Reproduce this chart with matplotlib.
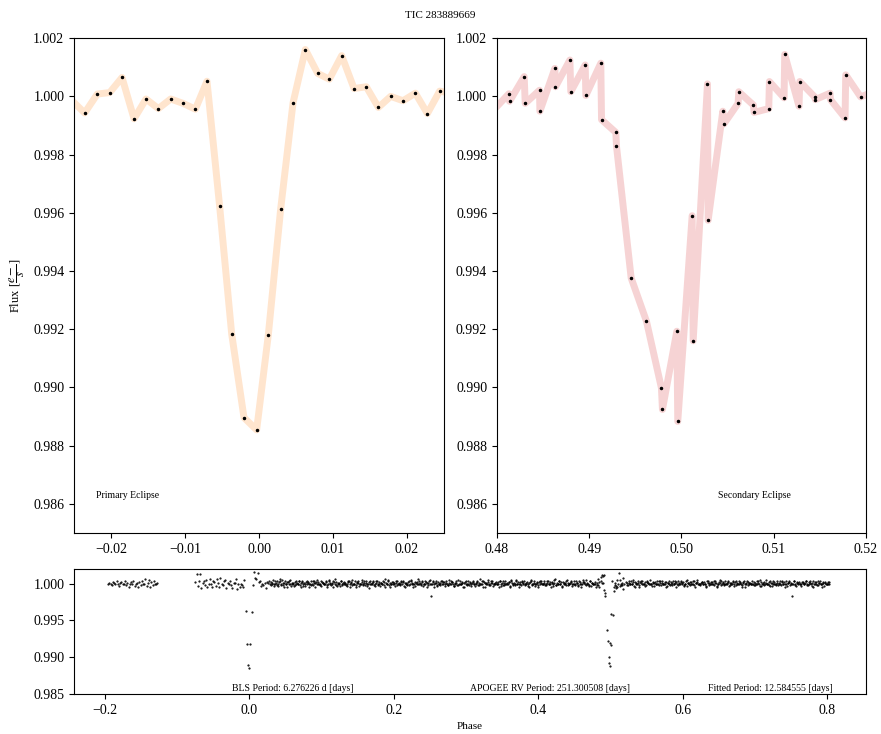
import numpy as np
import matplotlib
matplotlib.use('Agg')
import matplotlib.pyplot as plt

plt.rcParams['font.family'] = ['Liberation Serif', 'DejaVu Serif']
plt.rcParams['mathtext.fontset'] = 'stix'

tic_id = 'TIC 283889669'
bls_period = 6.276226
rv_period = 251.300508
fit_period = 12.584555

# phase step of one 30 min cadence, folded on the fitted period
cadence = (30.0 / 1440.0) / fit_period

# primary eclipse window
primary_phase = [-0.02522, -0.02356, -0.02185, -0.02018, -0.01851, -0.01689, -0.01527, -0.0136,
                 -0.01194, -0.01027, -0.0086, -0.00703, -0.00532, -0.00369, -0.00203, -0.00032,
                 0.00126, 0.00293, 0.0046, 0.00626, 0.00793, 0.0095, 0.01117, 0.01284,
                 0.0145, 0.01613, 0.01779, 0.01946, 0.02113, 0.02275, 0.02441, 0.02607]
primary_flux = [0.99984, 0.99943, 1.00008, 1.00013, 1.00065, 0.99923, 0.99991, 0.99958,
                0.99991, 0.99976, 0.99956, 1.00052, 0.99622, 0.99183, 0.98896, 0.98854,
                0.99181, 0.99614, 0.99978, 1.00161, 1.00079, 1.00059, 1.0014, 1.00027,
                1.00033, 0.99962, 1.0, 0.99985, 1.00011, 0.99941, 1.00018, 1.0001]

# secondary eclipse window (two orbits overlap here)
secondary_phase = [0.4797, 0.4813, 0.48137, 0.48296, 0.48307, 0.48462, 0.48466, 0.48628,
                   0.48635, 0.48791, 0.48801, 0.48957, 0.48964, 0.49126, 0.49134, 0.49289,
                   0.49296, 0.49455, 0.49621, 0.49783, 0.49794, 0.4995, 0.4996, 0.50116,
                   0.50127, 0.50282, 0.50289, 0.50448, 0.50459, 0.50614, 0.50621, 0.5078,
                   0.50787, 0.50946, 0.50953, 0.51112, 0.51119, 0.51274, 0.51282, 0.51444,
                   0.51451, 0.5161, 0.51614, 0.51773, 0.5178, 0.51942, 0.5211]
secondary_flux = [0.99955, 1.00009, 0.99983, 1.00068, 0.99976, 1.00021, 0.99949, 1.00096,
                  1.00033, 1.00125, 1.00016, 1.00108, 1.00003, 1.00114, 0.9992, 0.99876,
                  0.99829, 0.99376, 0.99227, 0.98998, 0.98924, 0.99193, 0.98883, 0.9959,
                  0.9916, 1.00043, 0.99574, 0.99949, 0.99905, 0.99976, 1.00016, 0.9997,
                  0.99945, 0.99958, 1.00051, 0.99995, 1.00144, 0.99966, 1.00051, 0.99998,
                  0.99989, 1.00011, 0.99989, 0.99926, 1.00074, 0.99998, 1.0002]

# out-of-eclipse stretches: start phase and flux offsets in units of 1e-4
orbit1_a_start = -0.1955
orbit1_a = [-1, 1, 0, -2, 2, 1, -1, 3, 0, -3, 1, 2, -1, 0, 4, -2, 1, -4, 0, 2, -1,
            3, -3, 0, 1, -5, 2, -2, 4, 0, -1, 6, -3, 1, 5, -4, 2, -2, 3, 0, -1, 1]

orbit1_b_start = -0.0749
orbit1_b = [2, 13, -3, 4, 13, -6, 1, 3, -2, 5, -4, 0, 7, -1, -5,
            3, 2, -3, 6, 1, -4, 8, 0, -2, 3, 5, -6, 1, -1, 4]

orbit1_c_start = 0.02776
orbit1_c = [3, -2, 1, 5, -1, 0, 4, -3, 2, 6, -2, 1, -4, 3, 0, 2, -1, 5, -3, 1, 0,
            -2, 4, 1, -1, 3, -5, 2, 0, 1, -3, 4, 2, -1, 0, -2, 3, 1, -4, 2, 5, -1,
            0, -3, 2, 1, -1, 4, -2, 0, 3, -1, 1, -5, 2, 6, -2, 0, 1, -3, 4, -1, 2,
            1, -2, 0, 3, -4, 2, 5, -1, 0, -2, 1, 3, -3, 0, 2, -1, 4, -2, 1, 0, -6,
            3, 0, -1, 2, -3, 1, 4, -2, 0, 1, -1, 3, 2, -4, 0, 5, -2, 1, -1, 2, 0,
            -3, 1, 4, 0, -2, 2, -1, 3, -5, 1, 0, 2, -2, 4, 1, -1, 0, -3, 2, 7, -1,
            1, -2, 3, 0, -1, 2, -4, 1, 5, -17, 0, 3, -1, 1, -3, 2, 0, -2, 4, -1, 2,
            0, 3, -2, 1, -1, 4, 2, -3, 0, 1, -2, 5, -1, 0, 2, -4, 1, 3, -1, 0, -2,
            2, -1, 4, 0, -3, 1, 2, -2, 6, 0, -1, 3, -4, 1, 0, 2, -2, 1, 4, -3, 0,
            1, -1, 2, -5, 3, 0, -2, 1, 4, -1, 0, 2, -3, 5, 1, -2, 0, 3, -1, 2, -4,
            0, 2, -1, 3, -2, 1, 0, -4, 2, 5, -1, 1, -3, 0, 2, -2, 4, 1, -1, 0, 3,
            -2, 1, 4, -1, 0, 2, -3, 1, 6, -2, 0, 3, -1, 2, -4, 0, 1, -2, 5, 1, -1,
            2, -3, 0, 4, -1, 1, -2, 3, 0, -4, 2, 1, -1, 5, 0, -2, 3, -3, 1, -1, 0]

orbit2_c_start = 0.0285
orbit2_c = [-1, 2, 0, -3, 4, 1, -2, 0, 3, -1, 5, -2, 1, 0, -4, 2, 3, -1, 0, 1, -3,
            2, 0, -1, 4, -2, 1, 3, -3, 0, 2, -1, 1, -5, 3, 0, -2, 4, 1, -1, 2, 0,
            -2, 3, 1, -1, 0, 2, -4, 5, 1, -2, 0, 3, -1, 2, -3, 1, 0, 4, -2, 1, -1,
            0, -3, 2, 4, -1, 1, -2, 0, 3, -4, 2, 1, 0, -1, 5, -2, 1, 3, -3, 0, 2,
            -1, 1, 3, -2, 0, 4, -1, 2, -3, 1, 0, -2, 6, 1, -1, 3, -4, 0, 2, -1, 1,
            3, -2, 0, 1, -1, 4, 2, -3, 1, 0, -2, 3, -1, 5, 0, -4, 2, 1, -1, 0, 3,
            -1, 2, -3, 0, 4, 1, -2, 3, 0, -1, 2, -5, 1, 3, -2, 0, 1, 4, -1, 2, -3,
            1, 0, -2, 5, -1, 2, 0, -3, 1, 4, -2, 0, 3, -1, 1, -4, 2, 0, -2, 3, 1,
            -3, 1, 2, 0, -1, 4, -2, 1, 0, 3, -4, 2, 1, -1, 5, 0, -2, 3, 1, -1, 0,
            2, -1, 0, 3, -3, 1, 4, -2, 0, 1, -1, 2, -4, 3, 0, 1, -2, 5, -1, 0, 2,
            -2, 4, 1, -1, 0, 2, -3, 1, 3, -2, 0, 4, -1, 1, -5, 2, 0, 3, -1, 1, -2,
            0, 3, -1, 2, -4, 1, 0, 5, -2, 1, -1, 3, 0, -3, 2, 1, -1, 4, -2, 0, 1,
            3, -1, 0, -2, 4, 1, -3, 2, 0, -1, 5, 2, -2, 1, 0, -3, 3, 1, -1, 0, 2]

orbit1_d_start = 0.5228
orbit1_d = [1, -2, 3, 0, -1, 5, -3, 2, 0, 1, -4, 2, 3, -1, 0, 2, -2, 4, 1, -1, 0,
            -3, 2, 1, 0, 4, -1, -2, 3, 1, -1, 0, 2, -5, 1, 3, -2, 0, 1, -1, 4, 2,
            0, -2, 1, 3, -1, 2, -3, 0, 5, 1, -1, -2, 2, 0, 3, -4, 1, 2, -1, 0, 1,
            2, -1, 0, -3, 4, 1, -2, 2, 0, -1, 3, 1, -4, 0, 2, 5, -2, 1, -1, 3, 0,
            -1, 3, -2, 1, 0, 2, -3, 4, 1, -1, 0, 2, -2, 1, 3, -4, 0, 2, -1, 1, 0,
            4, -2, 1, 0, -1, 3, -3, 2, 0, 1, -2, 5, -1, 0, 2, -3, 1, 3, -1, 0, -2,
            1, 0, 3, -2, 2, -1, 0, 4, -3, 1, 2, -1, -17, 0, 3, -2, 1, -1, 2, 0, -3,
            2, -1, 1, 4, -2, 0, 3, -1, 1, -4, 2, 0, -2, 3, 1, -1, 0, 2, -3, 1, 0,
            -1, 2]

orbit2_d_start = 0.5236
orbit2_d = [-2, 1, 0, 3, -1, 2, -4, 1, 0, 4, -2, 1, 3, -1, 0, -3, 2, 1, -1, 5, 0,
            1, -3, 2, 0, -1, 3, 1, -2, 4, 0, -1, 2, -3, 1, 0, 2, -2, 3, -1, 1, -4,
            3, 0, -1, 2, 1, -2, 0, 4, -3, 1, 2, -1, 0, 3, -2, 1, 5, -1, 0, -2, 2,
            -1, 2, 0, -4, 3, 1, -1, 0, 2, -2, 4, 1, -3, 0, 1, 3, -1, 2, -2, 0, 1,
            2, -3, 1, 0, 4, -1, 2, -2, 0, 3, 1, -1, -4, 2, 0, 1, 3, -2, 1, 0, -1,
            0, 2, -2, 3, 1, -1, 5, -3, 0, 2, -1, 1, 0, -2, 4, 1, -3, 0, 2, -1, 3,
            -2, 1, 0, 3, -1, 2, -4, 0, 1, 3, -2, 1, -1, 4, 0, -3, 2, 1, -1, 0, 2,
            1, -1, 3, 0, -2, 2, 1, -3, 4, 0, -1, 2, -2, 1, 3, 0, -4, 1, 2, -1, 0,
            2, -1]


def stretch(start, offsets):
    phase = start + cadence * np.arange(len(offsets))
    flux = 1.0 + np.asarray(offsets) * 1e-4
    return phase, flux


pieces = [(np.asarray(primary_phase), np.asarray(primary_flux)),
          (np.asarray(secondary_phase), np.asarray(secondary_flux)),
          stretch(orbit1_a_start, orbit1_a),
          stretch(orbit1_b_start, orbit1_b),
          stretch(orbit1_c_start, orbit1_c),
          stretch(orbit2_c_start, orbit2_c),
          stretch(orbit1_d_start, orbit1_d),
          stretch(orbit2_d_start, orbit2_d)]
all_phase = np.concatenate([p for p, f in pieces])
all_flux = np.concatenate([f for p, f in pieces])

fig = plt.figure(figsize=(8.81, 7.34), dpi=100)
ax1 = fig.add_axes([0.084, 0.274, 0.420, 0.674])
ax2 = fig.add_axes([0.564, 0.274, 0.419, 0.674])
ax3 = fig.add_axes([0.084, 0.0545, 0.899, 0.1703])

flux_ticks = [0.986, 0.988, 0.990, 0.992, 0.994, 0.996, 0.998, 1.000, 1.002]

ax1.plot(primary_phase, primary_flux, color='C1', alpha=0.2, lw=5)
ax1.plot(primary_phase, primary_flux, 'k.', ms=3)
ax1.set_xlim(-0.025, 0.025)
ax1.set_ylim(0.985, 1.002)
ax1.set_xticks([-0.02, -0.01, 0.0, 0.01, 0.02])
ax1.set_yticks(flux_ticks)
ax1.set_yticklabels([f'{t:.3f}' for t in flux_ticks])
ax1.set_ylabel(r'Flux [$\dfrac{e-}{s}$]', fontsize=9)
ax1.text(0.06, 0.07, 'Primary Eclipse', transform=ax1.transAxes, fontsize=7)

ax2.plot(secondary_phase, secondary_flux, color='C3', alpha=0.2, lw=5)
ax2.plot(secondary_phase, secondary_flux, 'k.', ms=3)
ax2.set_xlim(0.48, 0.52)
ax2.set_ylim(0.985, 1.002)
ax2.set_xticks([0.48, 0.49, 0.50, 0.51, 0.52])
ax2.set_yticks(flux_ticks)
ax2.set_yticklabels([f'{t:.3f}' for t in flux_ticks])
ax2.text(0.60, 0.07, 'Secondary Eclipse', transform=ax2.transAxes, fontsize=7)

ax3.plot(all_phase, all_flux, 'k.', ms=1.1)
ax3.set_xlim(-0.243, 0.854)
ax3.set_ylim(0.985, 1.002)
ax3.set_xticks([-0.2, 0.0, 0.2, 0.4, 0.6, 0.8])
ax3.set_yticks([0.985, 0.990, 0.995, 1.000])
ax3.set_yticklabels(['0.985', '0.990', '0.995', '1.000'])
ax3.set_xlabel('Phase', fontsize=8)
ax3.text(0.2, 0.02, f'BLS Period: {bls_period:.6f} d [days]', transform=ax3.transAxes, fontsize=7)
ax3.text(0.5, 0.02, f'APOGEE RV Period: {rv_period:.6f} [days]', transform=ax3.transAxes, fontsize=7)
ax3.text(0.8, 0.02, f'Fitted Period: {fit_period:.6f} [days]', transform=ax3.transAxes, fontsize=7)

fig.suptitle(tic_id, y=0.985, fontsize=8)

fig.savefig('out.png', dpi=100)
